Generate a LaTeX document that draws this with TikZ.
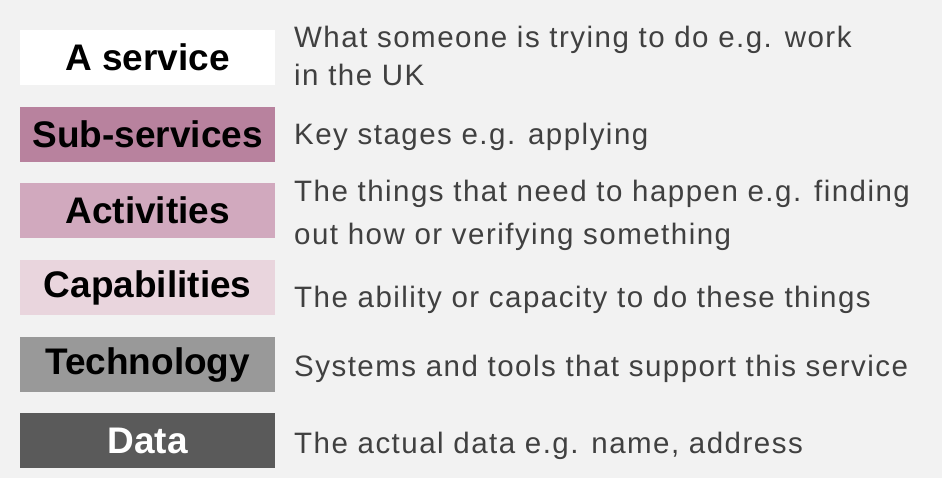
\documentclass[tikz,border=0pt]{standalone}
\usepackage{fontspec}
\setmainfont{Liberation Sans}
\newfontfamily\descfont[LetterSpace=5]{Liberation Sans}
\definecolor{bg}{HTML}{F2F2F2}
\definecolor{csub}{HTML}{B8829E}
\definecolor{cact}{HTML}{D1A9BE}
\definecolor{ccap}{HTML}{E9D5DD}
\definecolor{ctech}{HTML}{999999}
\definecolor{cdata}{HTML}{5A5A5A}
\definecolor{ctext}{HTML}{404040}
\begin{document}
\begin{tikzpicture}[x=1pt,y=-1pt,
  layer/.style={minimum width=255pt,minimum height=55pt,inner sep=0pt,anchor=north west,
    font=\fontsize{37}{40}\selectfont\bfseries},
  desc/.style={anchor=base west,inner sep=0pt,text=ctext,font=\descfont\fontsize{29.5}{38}\selectfont,align=left}]
\useasboundingbox[fill=bg] (0,0) rectangle (942,478);
\node[layer,fill=white] (svc) at (20,30) {A service};
\node[layer,fill=csub] (sub) at (20,107) {Sub-services};
\node[layer,fill=cact] (act) at (20,183) {Activities};
\node[layer,fill=ccap] (cap) at (20,260) {Capabilities};
\node[layer,fill=ctech] (tech) at (20,337) {Technology};
\node[layer,fill=cdata,text=white] (data) at (20,413) {Data};
\node[desc] (d1) at (294,48) {What someone is trying to do e.g. work};
\node[desc] (d1b) at (294,86) {in the UK};
\node[desc] (d2) at (294,145) {Key stages e.g. applying};
\node[desc] (d3) at (294,202) {The things that need to happen e.g. finding};
\node[desc] (d3b) at (294,245) {out how or verifying something};
\node[desc] (d4) at (294,307) {The ability or capacity to do these things};
\node[desc] (d5) at (294,376) {Systems and tools that support this service};
\node[desc] (d6) at (294,453) {The actual data e.g. name, address};
\end{tikzpicture}
\end{document}
